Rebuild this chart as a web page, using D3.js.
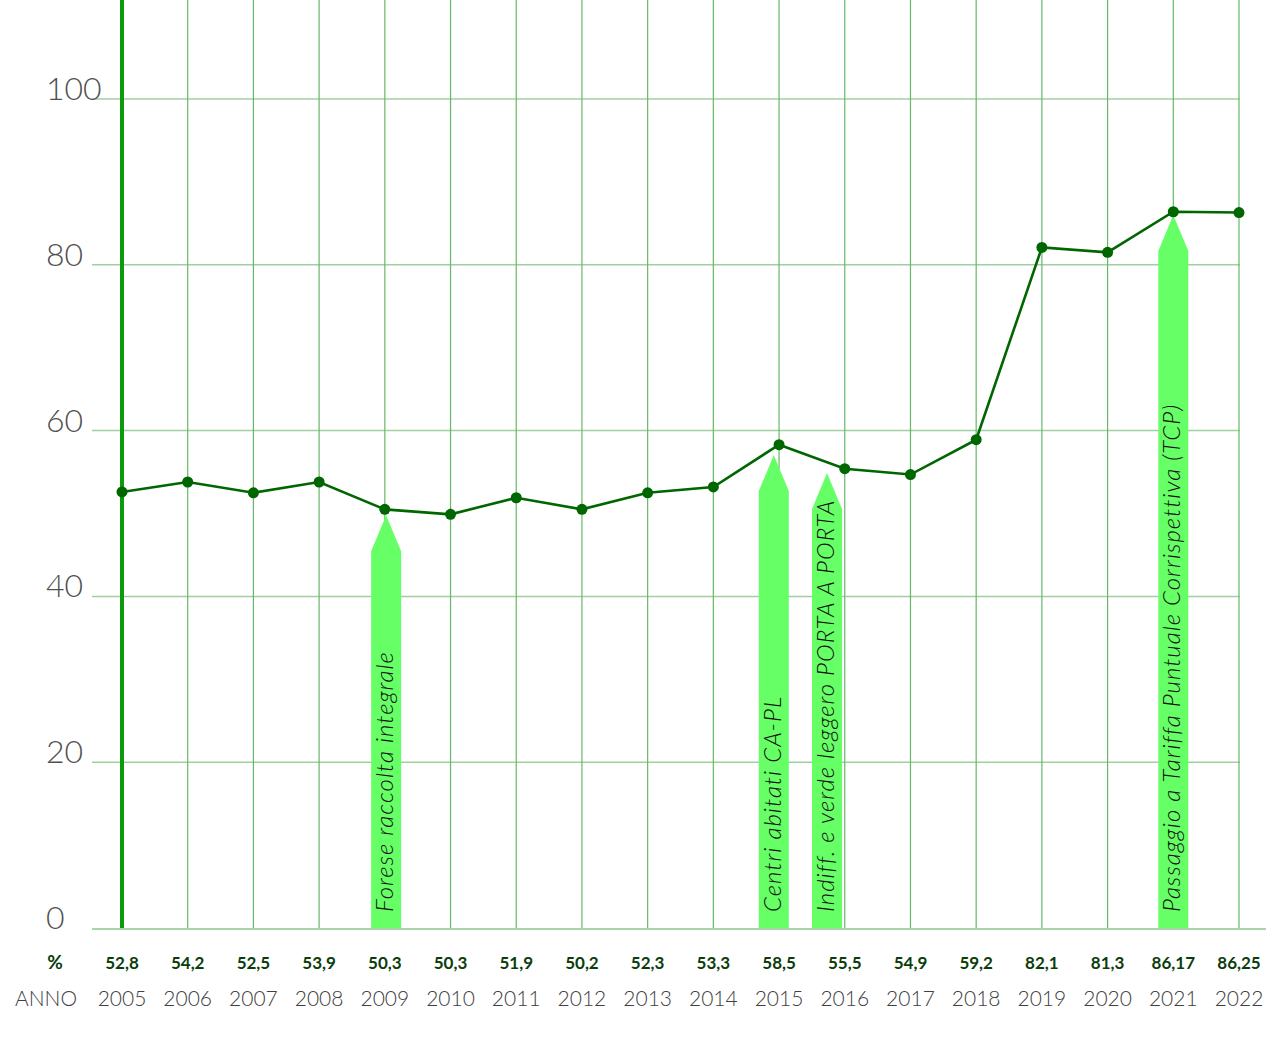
<!DOCTYPE html>
<html>
<head>
<meta charset="utf-8">
<script src="https://cdn.jsdelivr.net/npm/d3@7"></script>
<style>
  html, body { margin: 0; padding: 0; background: #ffffff; }
  svg { display: block; }
</style>
</head>
<body>
<svg id="chart" width="1281" height="1038"></svg>
<script>
// ---- data ----
const years = [2005, 2006, 2007, 2008, 2009, 2010, 2011, 2012, 2013, 2014, 2015, 2016, 2017, 2018, 2019, 2020, 2021, 2022];
const plotted = [52.6, 53.8, 52.5, 53.8, 50.5, 49.9, 51.9, 50.5, 52.5, 53.2, 58.3, 55.4, 54.7, 58.9, 82.1, 81.5, 86.4, 86.3];
const valueLabels = ["52,8", "54,2", "52,5", "53,9", "50,3", "50,3", "51,9", "50,2", "52,3", "53,3", "58,5", "55,5", "54,9", "59,2", "82,1", "81,3", "86,17", "86,25"];
const yTicks = [0, 20, 40, 60, 80, 100];
const annotYears = [2009.02, 2014.92, 2015.73, 2021.0];
const annotTips = [49.8, 57.05, 54.9, 86.0];
const annotTexts = ["Forese raccolta integrale", "Centri abitati CA-PL", "Indiff. e verde leggero PORTA A PORTA", "Passaggio a Tariffa Puntuale Corrispettiva (TCP)"];

// ---- layout ----
const svg = d3.select("#chart");
const x = d3.scaleLinear().domain([2005, 2022]).range([122, 1239]);
const y = d3.scaleLinear().domain([0, 100]).range([928, 99]);
const gridLeft = 92, gridRight = 1240;

// horizontal grid
const hg = svg.append("g");
hg.selectAll("line").data(yTicks.filter(d => d > 0)).join("line")
  .attr("x1", gridLeft).attr("x2", gridRight)
  .attr("y1", d => y(d)).attr("y2", d => y(d))
  .attr("stroke", "#9fd09f").attr("stroke-width", 1.5);

// vertical grid
const vg = svg.append("g");
vg.selectAll("line").data(years.slice(1)).join("line")
  .attr("x1", d => x(d)).attr("x2", d => x(d))
  .attr("y1", 0).attr("y2", y(0))
  .attr("stroke", "#66b866").attr("stroke-width", 1.2);

// bottom axis line
svg.append("line")
  .attr("x1", gridLeft).attr("x2", 1266)
  .attr("y1", y(0) + 1).attr("y2", y(0) + 1)
  .attr("stroke", "#a8d6a8").attr("stroke-width", 2);

// y tick labels
svg.append("g").selectAll("text").data(yTicks).join("text")
  .attr("x", 46).attr("y", d => y(d) + 1)
  .attr("font-family", "Lato, 'Open Sans', sans-serif")
  .attr("font-weight", 300)
  .attr("font-size", 32)
  .attr("fill", "#505050")
  .text(d => d);

// annotation arrows
const arrowW = 30, headH = 36;
const ag = svg.append("g");
annotYears.forEach((yr, i) => {
  const cx = x(yr);
  const tip = y(annotTips[i]);
  const bottom = y(0);
  const pts = [
    [cx, tip], [cx + arrowW / 2, tip + headH], [cx + arrowW / 2, bottom],
    [cx - arrowW / 2, bottom], [cx - arrowW / 2, tip + headH]
  ];
  ag.append("path")
    .attr("d", d3.line()(pts) + "Z")
    .attr("fill", "#66ff66");
  ag.append("text")
    .attr("transform", `translate(${cx + 7},${bottom - 16}) rotate(-90)`)
    .attr("font-family", "Lato, 'Open Sans', sans-serif")
    .attr("font-weight", 300)
    .attr("font-style", "italic")
    .attr("font-size", 24)
    .attr("letter-spacing", 1.0)
    .attr("fill", "#111111")
    .text(annotTexts[i]);
});

// thick first vertical line (2005)
svg.append("line")
  .attr("x1", x(2005)).attr("x2", x(2005))
  .attr("y1", 0).attr("y2", y(0))
  .attr("stroke", "#0a9a0a").attr("stroke-width", 4);

// data line
const line = d3.line().x((d, i) => x(years[i])).y(d => y(d));
svg.append("path")
  .datum(plotted)
  .attr("d", line)
  .attr("fill", "none")
  .attr("stroke", "#006600")
  .attr("stroke-width", 2.6);

svg.append("g").selectAll("circle").data(plotted).join("circle")
  .attr("cx", (d, i) => x(years[i]))
  .attr("cy", d => y(d))
  .attr("r", 5.5)
  .attr("fill", "#006600");

// value labels row
svg.append("text")
  .attr("x", 55).attr("y", 969)
  .attr("text-anchor", "middle")
  .attr("font-family", "Lato, 'Open Sans', sans-serif")
  .attr("font-weight", 700)
  .attr("font-size", 19)
  .attr("fill", "#0b3d0b")
  .text("%");

svg.append("g").selectAll("text").data(valueLabels).join("text")
  .attr("x", (d, i) => x(years[i]))
  .attr("y", 969)
  .attr("text-anchor", "middle")
  .attr("font-family", "Lato, 'Open Sans', sans-serif")
  .attr("font-weight", 700)
  .attr("font-size", 17)
  .attr("fill", "#0b3d0b")
  .text(d => d);

// year labels row
svg.append("text")
  .attr("x", 15).attr("y", 1006)
  .attr("font-family", "Lato, 'Open Sans', sans-serif")
  .attr("font-weight", 300)
  .attr("font-size", 21)
  .attr("fill", "#404040")
  .text("ANNO");

svg.append("g").selectAll("text").data(years).join("text")
  .attr("x", d => x(d))
  .attr("y", 1006)
  .attr("text-anchor", "middle")
  .attr("font-family", "Lato, 'Open Sans', sans-serif")
  .attr("font-weight", 300)
  .attr("font-size", 21)
  .attr("fill", "#404040")
  .text(d => d);
</script>
</body>
</html>
